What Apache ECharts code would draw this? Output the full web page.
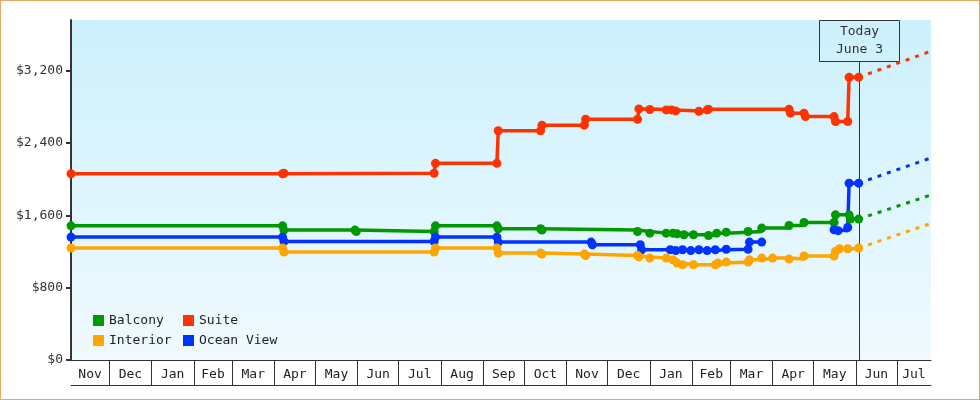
<!DOCTYPE html>
<html>
<head>
<meta charset="utf-8">
<script src="https://cdn.jsdelivr.net/npm/echarts@6/dist/echarts.min.js"></script>
<style>
html, body { margin: 0; padding: 0; background: #fff; }
#chart { width: 980px; height: 400px; box-sizing: border-box; border: 1px solid #e9a862; background: #fff; }
</style>
</head>
<body>
<div id="chart"></div>
<script>
var FONT = 'DejaVu Sans Mono';

// axis range and labels
var axisStart = '2016-11-03';
var axisEnd = '2018-07-26';
var today = '2018-06-03';
var todayLabel = 'Today\nJune 3';
var monthLabels = ['Nov', 'Dec', 'Jan', 'Feb', 'Mar', 'Apr', 'May', 'Jun', 'Jul', 'Aug', 'Sep',
    'Oct', 'Nov', 'Dec', 'Jan', 'Feb', 'Mar', 'Apr', 'May', 'Jun', 'Jul'];
var monthStarts = ['2016-12-01', '2017-01-01', '2017-02-01', '2017-03-01', '2017-04-01', '2017-05-01',
    '2017-06-01', '2017-07-01', '2017-08-01', '2017-09-01', '2017-10-01', '2017-11-01', '2017-12-01',
    '2018-01-01', '2018-02-01', '2018-03-01', '2018-04-01', '2018-05-01', '2018-06-01', '2018-07-01'];
var yTicks = [0, 800, 1600, 2400, 3200];
var yMax = 3760;

// price history (date, price)
var balcony = [
    ['2016-11-03', 1484], ['2017-04-07', 1484], ['2017-04-08', 1437], ['2017-05-30', 1437],
    ['2017-05-31', 1420], ['2017-07-27', 1420], ['2017-07-28', 1484], ['2017-09-11', 1484],
    ['2017-09-12', 1451], ['2017-10-13', 1451], ['2017-10-14', 1437], ['2017-12-23', 1421],
    ['2018-01-01', 1403], ['2018-01-13', 1403], ['2018-01-18', 1403], ['2018-01-21', 1395],
    ['2018-01-26', 1385], ['2018-02-02', 1385], ['2018-02-13', 1377], ['2018-02-19', 1403],
    ['2018-02-26', 1414], ['2018-03-14', 1421], ['2018-03-24', 1459], ['2018-04-13', 1487],
    ['2018-04-24', 1520], ['2018-05-16', 1520], ['2018-05-17', 1605], ['2018-05-27', 1605],
    ['2018-05-28', 1558], ['2018-06-03', 1558]
];
var oceanView = [
    ['2016-11-03', 1359], ['2017-04-07', 1359], ['2017-04-08', 1311], ['2017-07-27', 1311],
    ['2017-07-28', 1359], ['2017-09-11', 1359], ['2017-09-12', 1304], ['2017-11-19', 1304],
    ['2017-11-20', 1274], ['2017-12-25', 1274], ['2017-12-26', 1219], ['2018-01-16', 1219],
    ['2018-01-20', 1210], ['2018-01-25', 1219], ['2018-01-31', 1210], ['2018-02-06', 1219],
    ['2018-02-12', 1210], ['2018-02-18', 1219], ['2018-02-26', 1225], ['2018-03-14', 1225],
    ['2018-03-15', 1304], ['2018-03-24', 1304], ['2018-03-25', null], ['2018-05-16', 1440],
    ['2018-05-19', 1430], ['2018-05-26', 1465], ['2018-05-27', 1956], ['2018-06-03', 1956]
];
var interior = [
    ['2016-11-03', 1238], ['2017-04-07', 1238], ['2017-04-08', 1193], ['2017-07-27', 1193],
    ['2017-07-28', 1238], ['2017-09-11', 1238], ['2017-09-12', 1182], ['2017-10-13', 1182],
    ['2017-10-14', 1171], ['2017-11-14', 1171], ['2017-11-15', 1156], ['2017-12-23', 1156],
    ['2017-12-24', 1140], ['2018-01-01', 1127], ['2018-01-13', 1127], ['2018-01-18', 1108],
    ['2018-01-21', 1072], ['2018-01-25', 1053], ['2018-02-02', 1053], ['2018-02-18', 1053],
    ['2018-02-20', 1072], ['2018-02-26', 1083], ['2018-03-14', 1083], ['2018-03-15', 1108],
    ['2018-03-24', 1127], ['2018-04-01', 1127], ['2018-04-13', 1116], ['2018-04-24', 1150],
    ['2018-05-16', 1150], ['2018-05-17', 1200], ['2018-05-20', 1230], ['2018-05-26', 1230],
    ['2018-06-03', 1238]
];
var suite = [
    ['2016-11-03', 2060], ['2017-04-07', 2060], ['2017-04-08', 2065], ['2017-07-27', 2065],
    ['2017-07-28', 2175], ['2017-09-11', 2175], ['2017-09-12', 2535], ['2017-10-13', 2535],
    ['2017-10-14', 2597], ['2017-11-14', 2597], ['2017-11-15', 2663], ['2017-12-23', 2663],
    ['2017-12-24', 2777], ['2018-01-01', 2770], ['2018-01-13', 2766], ['2018-01-17', 2766],
    ['2018-01-20', 2755], ['2018-02-06', 2751], ['2018-02-12', 2766], ['2018-02-13', 2774],
    ['2018-04-13', 2774], ['2018-04-14', 2730], ['2018-04-24', 2730], ['2018-04-25', 2692],
    ['2018-05-16', 2692], ['2018-05-17', 2637], ['2018-05-26', 2637], ['2018-05-27', 3127],
    ['2018-06-03', 3127]
];

// projected prices (today -> end of axis)
var balconyTrend = [['2018-06-03', 1558], ['2018-07-26', 1825]];
var oceanViewTrend = [['2018-06-03', 1956], ['2018-07-26', 2235]];
var interiorTrend = [['2018-06-03', 1238], ['2018-07-26', 1510]];
var suiteTrend = [['2018-06-03', 3127], ['2018-07-26', 3415]];

var colors = { Balcony: '#009900', Suite: '#ff3300', Interior: '#ffa500', 'Ocean View': '#0033ff' };

function ts(s) { return Date.parse(s + 'T00:00:00Z'); }
function toPoints(rows) {
    return rows.map(function (r) { return [ts(r[0]), r[1]]; });
}

// month box edges and label centres
var edges = [ts(axisStart)].concat(monthStarts.map(ts)).concat([ts(axisEnd)]);
var labelMids = [];
for (var i = 0; i < edges.length - 1; i++) {
    labelMids.push((edges[i] + edges[i + 1]) / 2);
}

function stepSeries(name, data) {
    return {
        name: name,
        type: 'line',
        step: 'end',
        data: toPoints(data),
        symbol: 'circle',
        symbolSize: 9,
        showAllSymbol: true,
        connectNulls: false,
        lineStyle: { width: 3.5, color: colors[name] },
        itemStyle: { color: colors[name] },
        emphasis: { disabled: true }
    };
}
function trendSeries(name, data) {
    return {
        name: name + ' trend',
        type: 'line',
        data: toPoints(data),
        symbol: 'none',
        silent: true,
        lineStyle: { width: 3, color: colors[name], type: [4, 6] },
        itemStyle: { color: colors[name] }
    };
}

var chart = echarts.init(document.getElementById('chart'));
var legendBase = {
    orient: 'vertical',
    top: 313,
    padding: 0,
    itemWidth: 11,
    itemHeight: 11,
    itemGap: 7,
    icon: 'rect',
    selectedMode: false,
    textStyle: { fontFamily: FONT, fontSize: 13, color: '#222' }
};

var option = {
    animation: false,
    textStyle: { fontFamily: FONT },
    grid: {
        left: 70, top: 19, right: 48, bottom: 39,
        show: true,
        borderWidth: 0,
        backgroundColor: {
            type: 'linear', x: 0, y: 0, x2: 0, y2: 1,
            colorStops: [{ offset: 0, color: '#ccf0fc' }, { offset: 1, color: '#f0faff' }]
        }
    },
    legend: [
        Object.assign({}, legendBase, { left: 92, data: ['Balcony', 'Interior'] }),
        Object.assign({}, legendBase, { left: 182, data: ['Suite', 'Ocean View'] })
    ],
    xAxis: [{
        type: 'value',
        min: ts(axisStart),
        max: ts(axisEnd),
        axisLine: { show: true, onZero: false, lineStyle: { color: '#333', width: 1 } },
        axisTick: { show: true, customValues: monthStarts.map(ts), length: 25, lineStyle: { color: '#333', width: 1 } },
        axisLabel: {
            customValues: labelMids,
            hideOverlap: false,
            margin: 8,
            fontFamily: FONT,
            fontSize: 13,
            color: '#222',
            formatter: function (value) {
                var best = 0;
                for (var k = 1; k < labelMids.length; k++) {
                    if (Math.abs(labelMids[k] - value) < Math.abs(labelMids[best] - value)) best = k;
                }
                return monthLabels[best];
            }
        },
        splitLine: { show: false }
    }, {
        type: 'value',
        min: ts(axisStart),
        max: ts(axisEnd),
        position: 'bottom',
        offset: 25,
        axisLine: { show: true, onZero: false, lineStyle: { color: '#333', width: 1 } },
        axisTick: { show: false },
        axisLabel: { show: false },
        splitLine: { show: false }
    }],
    yAxis: {
        type: 'value',
        min: 0,
        max: yMax,
        axisLine: { show: true, lineStyle: { color: '#333', width: 2 } },
        axisTick: { show: true, customValues: yTicks, length: 5, lineStyle: { color: '#333', width: 2 } },
        axisLabel: {
            customValues: yTicks,
            margin: 8,
            fontFamily: FONT,
            fontSize: 13,
            color: '#333',
            formatter: function (v) { return '$' + v.toLocaleString('en-US'); }
        },
        splitLine: { show: false }
    },
    series: [
        trendSeries('Balcony', balconyTrend),
        trendSeries('Ocean View', oceanViewTrend),
        trendSeries('Interior', interiorTrend),
        trendSeries('Suite', suiteTrend),
        stepSeries('Balcony', balcony),
        stepSeries('Ocean View', oceanView),
        stepSeries('Interior', interior),
        stepSeries('Suite', suite),
        {
            type: 'custom',
            silent: true,
            clip: false,
            z: 1,
            data: [[ts(today), 0]],
            renderItem: function (params, api) {
                var p = api.coord([api.value(0), 0]);
                var x = Math.round(p[0]) + 0.5;
                var top = params.coordSys.y + 0.5;
                var boxW = 80, boxH = 41;
                return {
                    type: 'group',
                    children: [
                        { type: 'line', shape: { x1: x, y1: top + boxH, x2: x, y2: p[1] }, style: { stroke: '#333', lineWidth: 1 } },
                        { type: 'rect', shape: { x: x - boxW / 2, y: top, width: boxW, height: boxH }, style: { fill: 'none', stroke: '#333', lineWidth: 1 } },
                        {
                            type: 'text', x: x, y: top + boxH / 2,
                            style: {
                                text: todayLabel, fontFamily: FONT, fontSize: 13, fill: '#333',
                                align: 'center', verticalAlign: 'middle', lineHeight: 18
                            }
                        }
                    ]
                };
            }
        }
    ]
};
chart.setOption(option);
</script>
</body>
</html>
